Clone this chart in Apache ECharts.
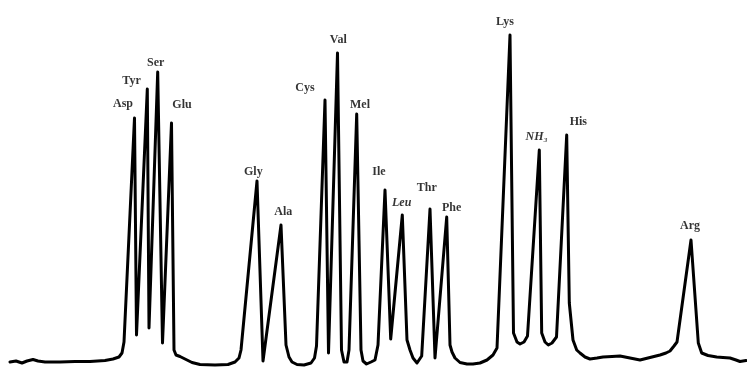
<!DOCTYPE html>
<html>
<head>
<meta charset="utf-8">
<script src="https://cdn.jsdelivr.net/npm/echarts@6/dist/echarts.min.js"></script>
<style>html,body{margin:0;padding:0;background:#fff}#c{width:747px;height:367px}</style>
</head>
<body>
<div id="c"></div>
<script>
// Chromatogram trace: retention position (x) and detector deflection (y, measured downward from top)
var traceX = [10,16,22,27,33,38,45,60,75,90,105,113,119,122,124,
  134.5,136.5,147.3,149,157.7,162.5,171.5,174,176,180,185,192,200,215,228,235,239,241,
  257,263,281,286,289,292,297,304,311,314.5,316.5,
  325,328.5,337.5,341.5,344,347,349,356.7,361,363,366.5,371,375,378,
  385,390.7,402.3,407,410,413,417,421.7,430,435,446.7,450,452,455,460,467,473,480,487,493,497,
  510,513.5,517,520,524,527.5,539.3,541.7,545,548.3,552,556.5,566.7,569.3,573,576.7,580,585,590,597,603,612,620,630,640,650,660,666,670,674,677,
  691,698.3,701.7,708,716.7,723,730,736,740,746];
var traceY = [362,361,363,361,359.5,361,362,362,361.5,361.5,360.5,359,357,353,342,
  118,335,89,328,72,343,123,350,355,356.5,359,362.5,364.5,365,364.5,362,358,350,
  181,361,225,345,357,362,364.5,365,363,358,346,
  100,353,53,350,362,362,350,114,350,361,364,362,360,345,
  190,339,215,340,350,358,363,356,209,358,217,345,352,358,362.5,364,364,363,360,355,348,
  35,333,342,344,342,336,150,333,342,345,343,337,135,303,340,350,353,357,359,358,357,356.5,356,358,360,357.5,355,353,351,346,342,
  240,343,353,355.5,357,357.5,358,360,361.5,360.5];

// Peak labels (amino acids) and where they sit
var peakNames = ['Asp','Tyr','Ser','Glu','Gly','Ala','Cys','Val','Mel','Ile','Leu','Thr','Phe','Lys','NH\u2083','His','Arg'];
var labelX = [123,131.5,155.7,182,253.3,283.3,305,338.3,360,379,401.7,426.7,451.7,505,536.7,578.3,690];
var labelY = [103.5,80.5,62.5,105,171.5,211.5,88.3,40,105,171.5,203,188,208,21.5,136.5,121.5,226];
var italicLabels = ['Leu','NH\u2083'];

var trace = traceX.map(function(x,i){return [x, traceY[i]];});
var labels = peakNames.map(function(n,i){return {name:n, value:[labelX[i], labelY[i]],
  label:{fontStyle: italicLabels.indexOf(n)>=0 ? 'italic' : 'normal'}};});

var chart = echarts.init(document.getElementById('c'), null, {renderer:'canvas'});
chart.setOption({
  animation:false,
  backgroundColor:'#fff',
  grid:{left:0,right:0,top:0,bottom:0},
  xAxis:{type:'value',min:0,max:747,show:false},
  yAxis:{type:'value',min:0,max:367,inverse:true,show:false},
  series:[
    {type:'line',data:trace,showSymbol:false,symbol:'none',smooth:false,
     lineStyle:{color:'#000',width:3,join:'round',cap:'round'}},
    {type:'scatter',data:labels,symbolSize:0,
     label:{show:true,position:'inside',formatter:'{b}',color:'#000',
       fontFamily:'Liberation Serif',fontWeight:'bold',fontSize:12}}
  ]
});
</script>
</body>
</html>
